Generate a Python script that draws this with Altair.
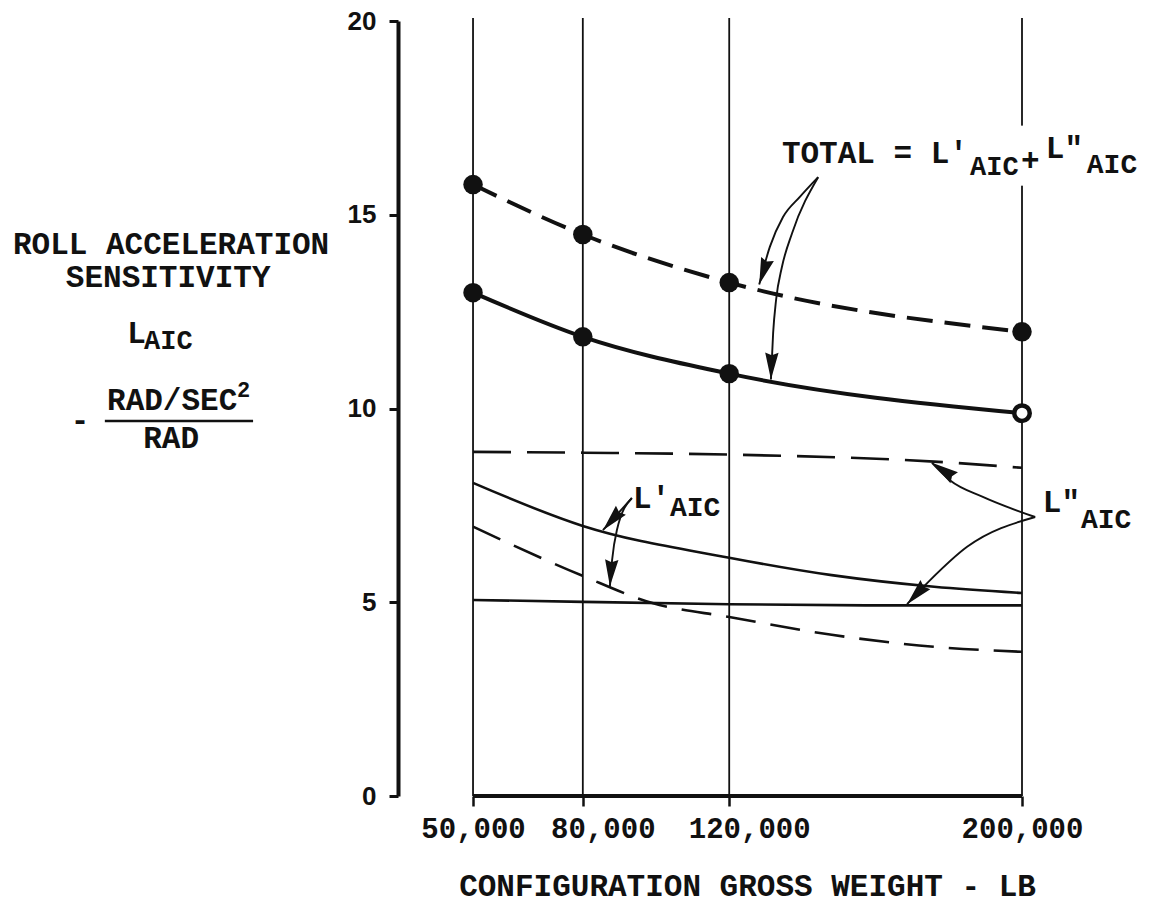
import altair as alt
import pandas as pd

# ---------------- data ----------------
weights = [50000, 80000, 120000, 200000]
y_ticks = [0, 5, 10, 15, 20]

total_dashed = [15.78, 14.49, 13.25, 11.98]
total_solid = [12.99, 11.85, 10.90, 9.88]

lpp_dashed_x = [50000, 80000, 120000, 176000, 200000]
lpp_dashed_y = [8.88, 8.86, 8.81, 8.63, 8.47]

lp_solid_x = [50000, 80000, 120000, 148000, 176000, 200000]
lp_solid_y = [8.08, 6.97, 6.15, 5.70, 5.40, 5.24]

lpp_solid_x = [50000, 80000, 120000, 160000, 200000]
lpp_solid_y = [5.06, 5.01, 4.95, 4.92, 4.92]

lp_dashed_x = [50000, 80000, 99000, 120000, 148000, 176000, 200000]
lp_dashed_y = [6.95, 5.68, 4.98, 4.62, 4.16, 3.85, 3.72]

# annotation leader arrows (data coordinates)
arrow_id = ["a1"] * 5 + ["a2"] * 6 + ["a3"] * 2 + ["a4"] * 4 + ["a5"] * 4 + ["a6"] * 4
arrow_x = [144300, 139300, 134700, 131100, 128200,
           144300, 137200, 134400, 132800, 132000, 131400,
           93400, 85500,
           93400, 89300, 88000, 87400,
           203600, 189300, 180300, 175400,
           203600, 185000, 174900, 168600]
arrow_y = [15.97, 15.46, 14.94, 14.17, 13.20,
           15.97, 14.53, 13.65, 12.80, 11.95, 10.75,
           7.69, 6.86,
           7.69, 6.86, 6.09, 5.41,
           7.20, 7.72, 8.15, 8.60,
           7.20, 6.43, 5.57, 4.95]
head_x = [128200, 131400, 85500, 87400, 175400, 168600]
head_y = [13.20, 10.75, 6.86, 5.41, 8.60, 4.95]
head_angle = [198, 182, 222, 184, 304, 223]

# text pieces (left aligned): x, baseline y, text, font size
ann_x = [134400, 185800, 199700, 206500, 217700,
         93700, 103800,
         205700, 216100,
         -44500, -39900, -50000, -14500]
ann_y = [16.34, 16.03, 16.15, 16.46, 16.08,
         7.43, 7.23,
         7.33, 6.92,
         11.69, 11.54, 9.96, 10.30]
ann_text = ["TOTAL = L'", "AIC", "+", 'L"', "AIC",
            "L'", "AIC",
            'L"', "AIC",
            "L", "AIC", "RAD/SEC", "2"]
ann_size = [31, 27, 31, 31, 28,
            31, 28,
            31, 28,
            31, 27, 31, 22]

# text pieces (centered)
ctr_x = [-32500, -33300, -32500, -57400]
ctr_y = [13.99, 13.14, 8.98, 9.45]
ctr_text = ["ROLL ACCELERATION", "SENSITIVITY", "RAD", "-"]
ctr_size = [31, 31, 31, 31]

INK = "#111111"
MONO = "Liberation Mono"

XSCALE = alt.Scale(domain=[29500, 200000], nice=False, zero=False)
YSCALE = alt.Scale(domain=[0, 20], nice=False, zero=False)

XAXIS = alt.Axis(
    values=weights, format=",d",
    domain=False, grid=False,
    tickSize=10, tickWidth=2.5, tickColor=INK,
    labelFont=MONO, labelFontWeight="bold", labelFontSize=29, labelColor=INK,
    labelBaseline="alphabetic", labelPadding=31, labelFlush=False, labelOverlap=False,
    labelOffset={"condition": {"test": "datum.value == 80000 || datum.value == 120000", "value": 20}, "value": 0},
    title="CONFIGURATION GROSS WEIGHT - LB",
    titleFont=MONO, titleFontWeight="bold", titleFontSize=31, titleColor=INK,
    titleX=349, titleY=99, titleAlign="center", titleBaseline="alphabetic",
)
YAXIS = alt.Axis(
    values=y_ticks, grid=False,
    domainColor=INK, domainWidth=4,
    tickSize=9, tickWidth=3, tickColor=INK,
    labelFont="Liberation Sans", labelFontWeight="bold", labelFontSize=26, labelColor=INK,
    labelPadding=13, labelFlush=False,
    title="",
)


def X(field="x"):
    return alt.X(f"{field}:Q", scale=XSCALE, axis=XAXIS)


def Y(field="y"):
    return alt.Y(f"{field}:Q", scale=YSCALE, axis=YAXIS)


def line(xs, ys, width, dash=None):
    kw = dict(color=INK, strokeWidth=width, interpolate="monotone")
    if dash:
        kw["strokeDash"] = dash
    return alt.Chart(pd.DataFrame({"x": xs, "y": ys})).mark_line(**kw).encode(x=X(), y=Y())


# grid / frame
grid = alt.Chart(pd.DataFrame({"x": weights, "y": [0] * 4, "y2": [20.08] * 4})).mark_rule(
    color=INK, strokeWidth=1.8).encode(x=X(), y=Y(), y2="y2:Q")
gap = alt.Chart(pd.DataFrame({"x": [200000], "y": [15.75], "y2": [17.3]})).mark_rule(
    color="white", strokeWidth=6).encode(x=X(), y=Y(), y2="y2:Q")
base = alt.Chart(pd.DataFrame({"x": [weights[0]], "x2": [weights[-1]], "y": [0]})).mark_rule(
    color=INK, strokeWidth=4).encode(x=X(), x2="x2:Q", y=Y())

# curves
l_total_d = line(weights, total_dashed, 4, [26, 12])
l_total_s = line(weights, total_solid, 4)
l_lpp_d = line(lpp_dashed_x, lpp_dashed_y, 2.6, [38, 16])
l_lp_s = line(lp_solid_x, lp_solid_y, 2.6)
l_lpp_s = line(lpp_solid_x, lpp_solid_y, 2.6)
l_lp_d = line(lp_dashed_x, lp_dashed_y, 2.6, [30, 15])

# markers
mk_df = pd.DataFrame({"x": weights + weights[:-1], "y": total_dashed + total_solid[:-1]})
markers = alt.Chart(mk_df).mark_point(filled=True, color=INK, size=380, opacity=1).encode(x=X(), y=Y())
open_mk = alt.Chart(pd.DataFrame({"x": [weights[-1]], "y": [total_solid[-1]]})).mark_point(
    fill="white", stroke=INK, strokeWidth=4.5, size=240, opacity=1, filled=True).encode(x=X(), y=Y())

# arrows
arrows = alt.Chart(pd.DataFrame({"id": arrow_id, "x": arrow_x, "y": arrow_y})).mark_line(
    color=INK, strokeWidth=1.9, interpolate="monotone").encode(x=X(), y=Y(), detail="id:N")
heads = alt.Chart(pd.DataFrame({"x": head_x, "y": head_y, "ang": head_angle})).mark_point(
    shape="M0,0 L0.5,2 L0,1.8 L-0.5,2 Z", filled=True, color=INK, size=720, opacity=1).encode(
    x=X(), y=Y(), angle=alt.Angle("ang:Q", scale=None))

# text
txt_left = alt.Chart(pd.DataFrame({"x": ann_x, "y": ann_y, "t": ann_text, "fs": ann_size})).mark_text(
    align="left", baseline="alphabetic", font=MONO, fontWeight="bold", color=INK).encode(
    x=X(), y=Y(), text="t:N", size=alt.Size("fs:Q", scale=None))
txt_ctr = alt.Chart(pd.DataFrame({"x": ctr_x, "y": ctr_y, "t": ctr_text, "fs": ctr_size})).mark_text(
    align="center", baseline="alphabetic", font=MONO, fontWeight="bold", color=INK).encode(
    x=X(), y=Y(), text="t:N", size=alt.Size("fs:Q", scale=None))
frac = alt.Chart(pd.DataFrame({"x": [-50600], "x2": [-10100], "y": [9.68]})).mark_rule(
    color=INK, strokeWidth=2.5).encode(x=X(), x2="x2:Q", y=Y())

chart = alt.layer(
    grid, gap, base,
    l_lpp_d, l_lp_s, l_lpp_s, l_lp_d,
    l_total_d, l_total_s,
    arrows, heads,
    markers, open_mk,
    txt_left, txt_ctr, frac,
).properties(
    width=624, height=775,
    padding={"left": 398, "top": 21, "right": 134, "bottom": 109},
    autosize=alt.AutoSizeParams(type="none"),
    background="white",
).configure_view(strokeWidth=0)

chart.save("out.html", embed_options={"renderer": "svg", "actions": False})
